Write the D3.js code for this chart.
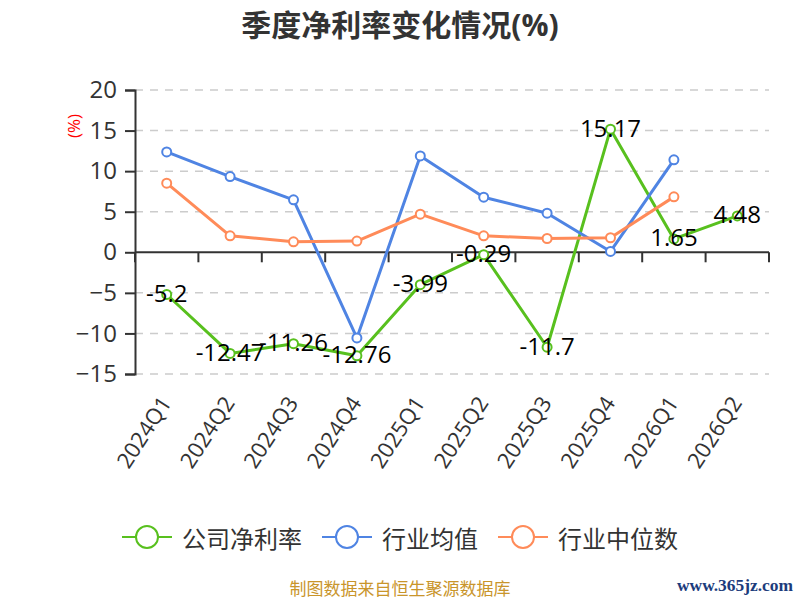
<!DOCTYPE html>
<html>
<head>
    <meta charset="utf-8">
    <title>季度净利率变化情况</title>
    <style>
        body { margin: 0; background: #fff; }
        svg { display: block; font-family: "Open Sans", "Noto Sans CJK SC", sans-serif; }
    </style>
</head>
<body>
    <svg width="800" height="600"></svg>

    <script src="https://d3js.org/d3.v7.min.js"></script>
    <script>
        // data
        var quarters = ["2024Q1", "2024Q2", "2024Q3", "2024Q4", "2025Q1", "2025Q2", "2025Q3", "2025Q4", "2026Q1", "2026Q2"];
        var companyRate = [-5.2, -12.47, -11.26, -12.76, -3.99, -0.29, -11.7, 15.17, 1.65, 4.48];
        var industryMean = [12.37, 9.33, 6.46, -10.56, 11.88, 6.79, 4.82, 0.1, 11.39, null];
        var industryMedian = [8.52, 2.03, 1.29, 1.38, 4.7, 2.03, 1.7, 1.79, 6.83, null];
        var yTicks = [-15, -10, -5, 0, 5, 10, 15, 20];
        var seriesNames = ["公司净利率", "行业均值", "行业中位数"];
        var seriesColors = ["#58c01e", "#4f84e3", "#ff8b59"];

        // "top" is taken by window.top, so use plot* names
        var svg = d3.select("svg"),
            plotLeft = 135, plotRight = 769, plotTop = 90, plotBottom = 374;

        var x = d3.scaleBand().domain(quarters).range([plotLeft, plotRight]);
        var y = d3.scaleLinear().domain([-15, 20]).range([plotBottom, plotTop]);

        // title
        svg.append("text")
            .attr("x", 400).attr("y", 24)
            .attr("text-anchor", "middle").attr("dominant-baseline", "central")
            .style("font-size", "30px").style("font-weight", "bold").style("fill", "#333")
            .text("季度净利率变化情况(%)");

        // grid lines
        svg.append("g").selectAll("line")
            .data(yTicks.filter(function (d) { return d !== 0; }))
            .enter().append("line")
            .attr("x1", plotLeft).attr("x2", plotRight)
            .attr("y1", function (d) { return y(d); }).attr("y2", function (d) { return y(d); })
            .style("stroke", "#ccc").style("stroke-width", 1.5).style("stroke-dasharray", "8,7");

        // y axis
        var yAxis = svg.append("g")
            .attr("transform", "translate(" + plotLeft + ",0)")
            .call(d3.axisLeft(y).tickValues(yTicks).tickSize(10).tickPadding(8));
        yAxis.select(".domain").style("stroke", "#333").style("stroke-width", 2);
        yAxis.selectAll(".tick line").style("stroke", "#333").style("stroke-width", 2);
        yAxis.selectAll(".tick text")
            .style("font-size", "24px").style("fill", "#333")
            .style("font-family", "'Open Sans', sans-serif");

        // unit label
        svg.append("text")
            .attr("transform", "translate(73,126) rotate(-90)")
            .attr("text-anchor", "middle").attr("dominant-baseline", "central")
            .style("font-size", "17px").style("fill", "red")
            .text("(%)");

        // x axis on zero, ticks between the bands
        var xAxis = svg.append("g")
            .attr("transform", "translate(0," + y(0) + ")");
        xAxis.append("line")
            .attr("x1", plotLeft).attr("x2", plotRight)
            .style("stroke", "#333").style("stroke-width", 2);
        xAxis.selectAll(".xtick")
            .data(quarters.concat(["end"]))
            .enter().append("line")
            .attr("class", "xtick")
            .attr("x1", function (d, i) { return plotLeft + i * x.bandwidth(); })
            .attr("x2", function (d, i) { return plotLeft + i * x.bandwidth(); })
            .attr("y1", 0).attr("y2", 10)
            .style("stroke", "#333").style("stroke-width", 2);

        // category labels at the bottom, rotated
        svg.append("g").selectAll("text")
            .data(quarters)
            .enter().append("text")
            .attr("transform", function (d) {
                return "translate(" + (x(d) + x.bandwidth() / 2 - 2) + "," + (plotBottom + 24) + ") rotate(-57)";
            })
            .attr("text-anchor", "end").attr("dominant-baseline", "central")
            .style("font-size", "22px").style("fill", "#333")
            .text(function (d) { return d; });

        // lines
        var allSeries = [companyRate, industryMean, industryMedian];
        var line = d3.line()
            .defined(function (d) { return d !== null; })
            .x(function (d, i) { return x(quarters[i]) + x.bandwidth() / 2; })
            .y(function (d) { return y(d); });

        allSeries.forEach(function (values, k) {
            svg.append("path")
                .datum(values)
                .attr("d", line)
                .style("fill", "none")
                .style("stroke", seriesColors[k])
                .style("stroke-width", 3)
                .style("stroke-linejoin", "round");
        });

        allSeries.forEach(function (values, k) {
            svg.append("g").selectAll("circle")
                .data(values.map(function (v, i) { return { v: v, q: quarters[i] }; })
                    .filter(function (d) { return d.v !== null; }))
                .enter().append("circle")
                .attr("cx", function (d) { return x(d.q) + x.bandwidth() / 2; })
                .attr("cy", function (d) { return y(d.v); })
                .attr("r", 4.5)
                .style("fill", "#fff")
                .style("stroke", seriesColors[k])
                .style("stroke-width", 2);
        });

        // value labels of the company series
        svg.append("g").selectAll("text")
            .data(companyRate)
            .enter().append("text")
            .attr("x", function (d, i) { return x(quarters[i]) + x.bandwidth() / 2; })
            .attr("y", function (d) { return y(d) - 2; })
            .attr("text-anchor", "middle").attr("dominant-baseline", "central")
            .style("font-size", "24px").style("fill", "#000")
            .text(function (d) { return d; });

        // legend
        var legend = svg.append("g").attr("transform", "translate(0,537)");
        var items = legend.selectAll("g")
            .data(seriesNames)
            .enter().append("g");
        items.append("line")
            .attr("x1", 0).attr("x2", 50)
            .style("stroke", function (d, i) { return seriesColors[i]; })
            .style("stroke-width", 2);
        items.append("circle")
            .attr("cx", 25).attr("r", 11)
            .style("fill", "#fff")
            .style("stroke", function (d, i) { return seriesColors[i]; })
            .style("stroke-width", 2);
        items.append("text")
            .attr("x", 60)
            .attr("dominant-baseline", "central")
            .style("font-size", "24px").style("fill", "#333")
            .style("font-family", "'Noto Sans CJK SC', sans-serif")
            .text(function (d) { return d; });

        var widths = [];
        items.each(function () { widths.push(60 + d3.select(this).select("text").node().getComputedTextLength()); });
        var total = d3.sum(widths) + 20 * (widths.length - 1);
        var pos = 400 - total / 2;
        items.attr("transform", function (d, i) {
            var p = pos;
            pos += widths[i] + 20;
            return "translate(" + p + ",0)";
        });

        // footer
        svg.append("text")
            .attr("x", 400).attr("y", 587)
            .attr("text-anchor", "middle").attr("dominant-baseline", "central")
            .style("font-size", "17px").style("fill", "#c9952b")
            .style("font-family", "'Noto Sans CJK SC', sans-serif")
            .text("制图数据来自恒生聚源数据库");

        svg.append("text")
            .attr("x", 677).attr("y", 585)
            .attr("dominant-baseline", "central")
            .attr("textLength", 116).attr("lengthAdjust", "spacingAndGlyphs")
            .style("font-size", "17px").style("font-weight", "bold").style("fill", "#1c3c7c")
            .style("font-family", "'Liberation Serif', serif")
            .text("www.365jz.com");
    </script>
</body>
</html>
